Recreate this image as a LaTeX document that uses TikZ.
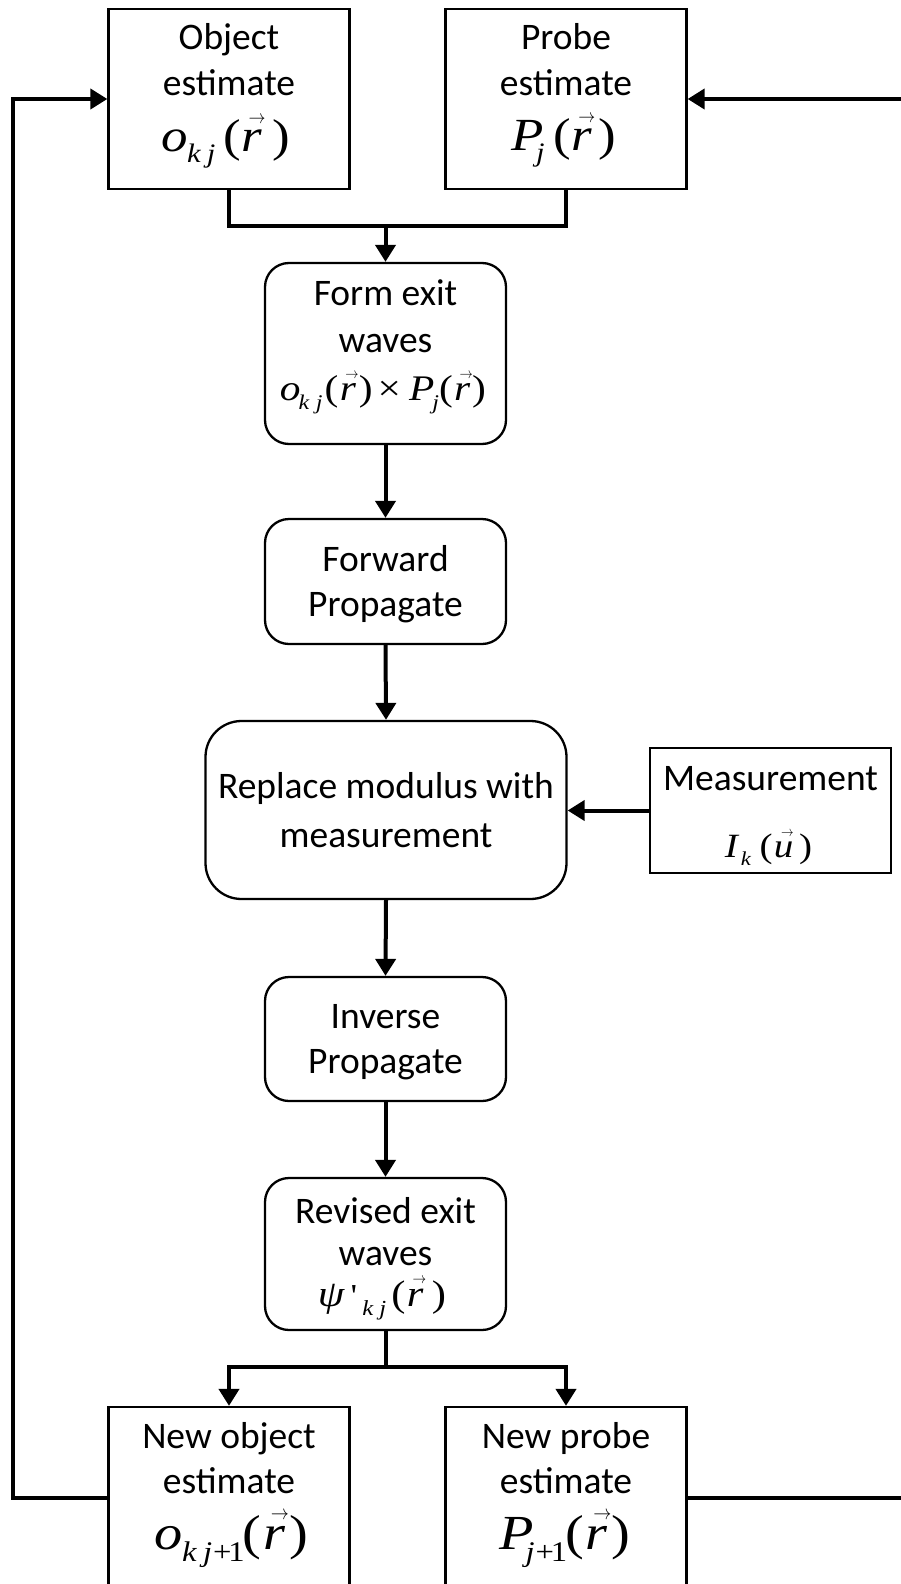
\RequirePackage{fix-cm}
\documentclass[tikz,border=0pt]{standalone}
\usepackage{fontspec}
\setmainfont{Carlito}
\newfontfamily\tnr{Liberation Serif}
\usetikzlibrary{arrows.meta}

% italic variable, lowered subscript, small vector arrow over a letter
\newcommand\mv[1]{{\itshape #1}}
\newcommand\sbx[1]{\raisebox{-0.25em}{\scalebox{0.58}{\itshape #1}}}
\newcommand\vecarrow{\scalebox{0.32}[0.42]{$\rightarrow$}}
\newcommand\vecd[1]{\ooalign{\itshape #1\cr\hidewidth\kern0.2em\raisebox{0.6em}{\vecarrow}\hidewidth\cr}}
% formula line: serif, given size, slightly widened
\newcommand\mline[2]{\scalebox{1.15}[1]{\fontsize{#1}{#1}\selectfont\tnr #2}}

\tikzset{
  box/.style={draw, line width=2.3pt, minimum width=241pt, inner sep=0pt},
  rbox/.style={box, rounded corners=24pt},
  lbl/.style={anchor=base, inner sep=0pt, font=\fontsize{37.5}{46}\selectfont},
  link/.style={line width=4pt},
  arr/.style={link, -{Triangle[length=17pt,width=20pt]}},
}

\begin{document}
\begin{tikzpicture}[x=1pt, y=-1pt]
\useasboundingbox (0,0) rectangle (901,1584);
\fill[white] (0,0) rectangle (901,1584);
\clip (0,0) rectangle (901,1584);

% ---- boxes
\node[box, minimum height=180pt] (obj) at (229,99) {};
\node[box, minimum height=180pt] (probe) at (566,99) {};
\node[rbox, minimum height=181pt] (form) at (385.5,353.5) {};
\node[rbox, minimum height=125pt] (fwd) at (385.5,581.5) {};
\node[rbox, minimum width=361pt, minimum height=178pt, rounded corners=36pt] (repl) at (386,810) {};
\node[box, minimum height=125pt] (meas) at (770.5,810.5) {};
\node[rbox, minimum height=124pt] (inv) at (385.5,1039) {};
\node[rbox, minimum height=152pt] (rev) at (385.5,1254) {};
\node[box, minimum height=181pt] (nobj) at (229,1497.5) {};
\node[box, minimum height=181pt] (nprobe) at (566,1497.5) {};

% ---- texts
\node[lbl] (obj-a) at (229,50) {Object};
\node[lbl] (obj-b) at (229,96) {estimate};
\node[lbl] (obj-c) at (226,151)
  {\mline{46}{\mv{o}\kern-0.02em\sbx{k\kern0.2em j}\kern0.16em(\vecd{r}\kern0.2em)}};

\node[lbl] (probe-a) at (566,50) {Probe};
\node[lbl] (probe-b) at (566,96) {estimate};
\node[lbl] (probe-c) at (564,150)
  {\mline{46}{\mv{P}\kern-0.15em\sbx{j}\kern0.17em(\vecd{r}\kern0.13em)}};

\node[lbl] (form-a) at (385.5,305) {Form exit};
\node[lbl] (form-b) at (385.5,352) {waves};
\node[lbl] (form-c) at (383,400)
  {\mline{36}{\mv{o}\kern-0.05em\sbx{k\kern0.28em j}\kern0.05em(\kern0.03em\vecd{r}\kern0.07em)\kern0.12em×\kern0.2em\mv{P}\kern-0.05em\sbx{j}(\kern0.03em\vecd{r}\kern0.05em)}};

\node[lbl] (fwd-a) at (385.5,571) {Forward};
\node[lbl] (fwd-b) at (385.5,616) {Propagate};

\node[lbl] (repl-a) at (386,798) {Replace modulus with};
\node[lbl] (repl-b) at (386,847) {measurement};

\node[lbl] (meas-a) at (770.5,790) {Measurement};
\node[lbl] (meas-b) at (768.5,857)
  {\mline{34}{\mv{I}\kern0.08em\sbx{k}\kern0.22em(\kern0.03em\vecd{u}\kern0.15em)}};

\node[lbl] (inv-a) at (385.5,1028.5) {Inverse};
\node[lbl] (inv-b) at (385.5,1073.5) {Propagate};

\node[lbl] (rev-a) at (385.5,1223) {Revised exit};
\node[lbl] (rev-b) at (385.5,1265) {waves};
\node[lbl] (rev-c) at (382,1306)
  {\mline{37}{\mv{ψ}\kern0.15em{\fontsize{32}{32}\selectfont\char"27}\kern0.12em\sbx{k\kern0.25em j}\kern0.12em(\kern0.03em\vecd{r}\kern0.2em)}};

\node[lbl] (nobj-a) at (229,1448) {New object};
\node[lbl] (nobj-b) at (229,1493) {estimate};
\node[lbl] (nobj-c) at (231.5,1549)
  {\mline{49}{\mv{o}\kern-0.02em\sbx{k\kern0.2em j\kern0.03em{\upshape+\kern-0.1em 1}}\kern-0.03em(\kern0.03em\vecd{r}\kern0.07em)}};

\node[lbl] (nprobe-a) at (566,1448) {New probe};
\node[lbl] (nprobe-b) at (566,1493) {estimate};
\node[lbl] (nprobe-c) at (565,1549)
  {\mline{49}{\mv{P}\kern-0.15em\sbx{j\kern0.03em{\upshape+\kern-0.1em 1}}\kern-0.03em(\kern0.03em\vecd{r}\kern0.07em)}};

% ---- junction points and loop corners
\coordinate (topj) at (385.5,226);
\coordinate (botj) at (385.5,1367);
\coordinate (lcorner) at (13,800);
\coordinate (rcorner) at (908,800);

% ---- connectors
\draw[link] (obj.south) |- (topj) -| (probe.south);
\draw[arr] (topj) -- (form.north);
\draw[arr] (form.south) -- (fwd.north);
\draw[arr] (fwd.south) -- (repl.north);
\draw[arr] (meas.west) -- (meas.west -| repl.east);
\draw[arr] (repl.south) -- (inv.north);
\draw[arr] (inv.south) -- (rev.north);
\draw[link] (rev.south) -- (botj);
\draw[arr] (botj) -| (nobj.north);
\draw[arr] (botj) -| (nprobe.north);
\draw[arr] (nobj.west) -| (lcorner) |- (obj.west);
\draw[arr] (nprobe.east) -| (rcorner) |- (probe.east);
\end{tikzpicture}
\end{document}
